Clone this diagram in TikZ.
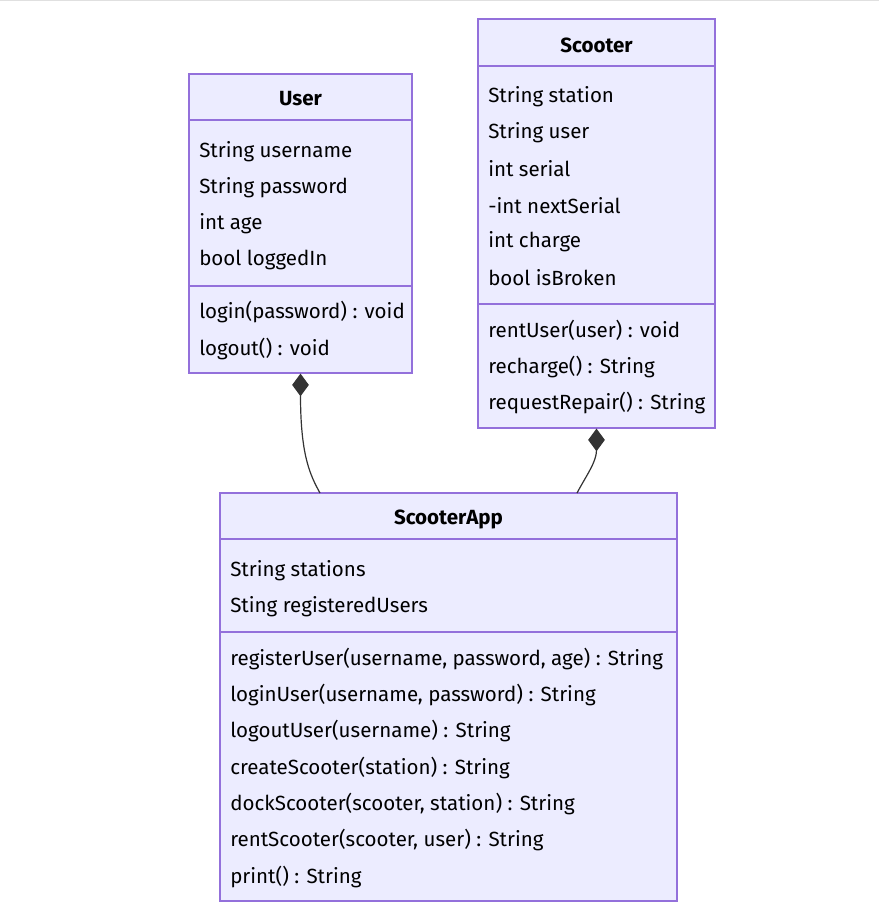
\documentclass[tikz,border=0pt]{standalone}
\usepackage{fontspec}
\setmainfont{Fira Sans}
\usetikzlibrary{arrows.meta,calc}
\definecolor{boxfill}{HTML}{ECECFF}
\definecolor{boxline}{HTML}{9370DB}
\definecolor{edge}{HTML}{333333}
\definecolor{topline}{HTML}{E0E0E0}
\tikzset{
  classbox/.style={draw=boxline, fill=boxfill, line width=0.9pt, inner sep=0pt},
  sepline/.style={draw=boxline, line width=0.9pt},
  member/.style={anchor=west, inner sep=0pt, font=\fontsize{15.4}{18}\selectfont, text=black},
  ctitle/.style={inner sep=0pt, font=\fontsize{15.4}{18}\selectfont\bfseries, text=black},
  comp/.style={draw=edge, line width=0.9pt, {Diamond[length=17pt,width=12.5pt,fill=edge]}-}
}
\begin{document}
\begin{tikzpicture}[x=0.75pt,y=-0.75pt]
\useasboundingbox (0,0) rectangle (879,919);
\fill[white] (0,0) rectangle (879,919);
\fill[topline] (0,0) rectangle (879,1.5);

% User
\node[classbox, minimum width=167.25pt, minimum height=224.25pt] (user) at (300.5,223.5) {};
\draw[sepline] (user.west |- 0,120) -- (user.east |- 0,120);
\draw[sepline] (user.west |- 0,286) -- (user.east |- 0,286);
\node[ctitle] (usert) at (300.5,99) {User};
\node[member] (u1) at (199,152) {String username};
\node[member] (u2) at (199,188) {String password};
\node[member] (u3) at (199,224) {int age};
\node[member] (u4) at (199,260) {bool loggedIn};
\node[member] (u5) at (199,312) {login(password) : void};
\node[member] (u6) at (199,349) {logout() : void};

% Scooter
\node[classbox, minimum width=177.75pt, minimum height=306.75pt] (scooter) at (596.5,223.5) {};
\draw[sepline] (scooter.west |- 0,66) -- (scooter.east |- 0,66);
\draw[sepline] (scooter.west |- 0,304) -- (scooter.east |- 0,304);
\node[ctitle] (scootert) at (596.5,45) {Scooter};
\node[member] (s1) at (488,97) {String station};
\node[member] (s2) at (488,133) {String user};
\node[member] (s3) at (488,169) {int serial};
\node[member] (s4) at (488,206) {-int nextSerial};
\node[member] (s5) at (488,242) {int charge};
\node[member] (s6) at (488,278) {bool isBroken};
\node[member] (s7) at (488,330) {rentUser(user) : void};
\node[member] (s8) at (488,367) {recharge() : String};
\node[member] (s9) at (488,403) {requestRepair() : String};

% ScooterApp
\node[classbox, minimum width=342.75pt, minimum height=306pt] (app) at (448.5,697) {};
\draw[sepline] (app.west |- 0,539) -- (app.east |- 0,539);
\draw[sepline] (app.west |- 0,632) -- (app.east |- 0,632);
\node[ctitle] (appt) at (448.5,519) {ScooterApp};
\node[member] (a1) at (230,571) {String stations};
\node[member] (a2) at (230,607) {Sting registeredUsers};
\node[member] (a3) at (230,659) {registerUser(username, password, age) : String};
\node[member] (a4) at (230,695) {loginUser(username, password) : String};
\node[member] (a5) at (230,731) {logoutUser(username) : String};
\node[member] (a6) at (230,768) {createScooter(station) : String};
\node[member] (a7) at (230,804) {dockScooter(scooter, station) : String};
\node[member] (a8) at (230,840) {rentScooter(scooter, user) : String};
\node[member] (a9) at (230,877) {print() : String};

% connectors
\coordinate (appu) at (320,493);
\coordinate (apps) at (577,493);
\draw[comp] (user.south) .. controls (300.5,455) and (310,475) .. (appu);
\draw[comp] (scooter.south) .. controls (596.5,462) and (586,476) .. (apps);
\end{tikzpicture}
\end{document}
